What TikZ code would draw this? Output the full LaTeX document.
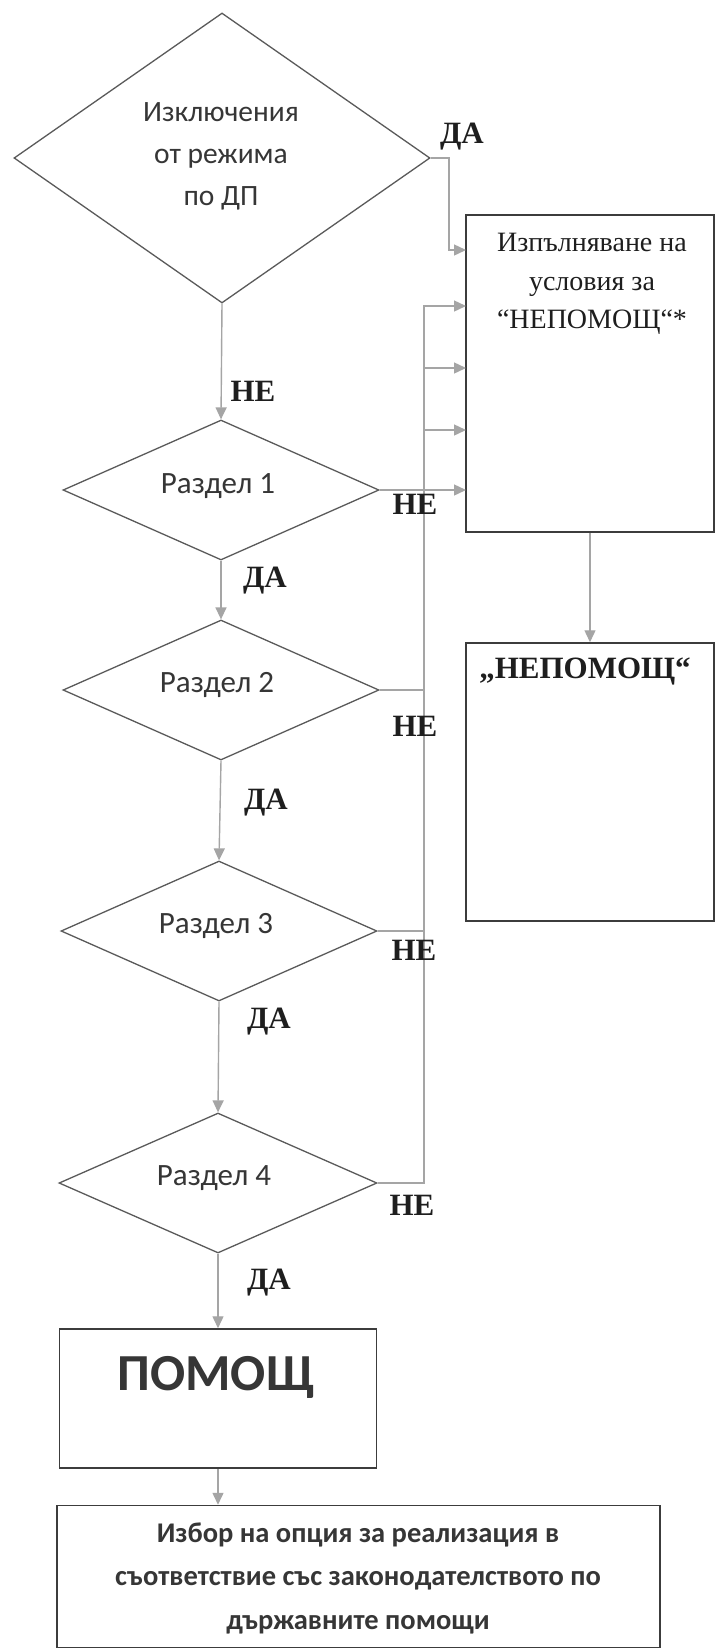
\documentclass[tikz,border=0pt]{standalone}
\usepackage{fontspec}
\setmainfont{Liberation Serif}
\newfontfamily\calfont{Carlito}
\usetikzlibrary{shapes.geometric,arrows.meta}
\definecolor{cgray}{HTML}{A5A5A5}
\definecolor{dgray}{HTML}{5A5A5A}
\definecolor{bgray}{HTML}{3C3C3C}
\definecolor{tgray}{HTML}{363636}
\definecolor{ink}{HTML}{1E1E1E}
\begin{document}
\begin{tikzpicture}[x=1pt,y=-1pt,
  conn/.style={draw=cgray, line width=1.4pt},
  arr/.style={conn, -{Triangle[length=12pt,width=11pt]}},
  dia/.style={diamond, draw=dgray, line width=1.3pt, inner sep=0pt},
  razd/.style={text=tgray, font=\calfont\fontsize{31}{36}\selectfont},
  box/.style={rectangle, draw=bgray, line width=1.5pt, inner sep=0pt},
  lbl/.style={font=\bfseries\fontsize{31}{34}\selectfont, text=ink, inner sep=0pt},
]
\useasboundingbox[fill=white] (0,0) rectangle (716,1649);

% decision diamonds
\node[dia, minimum width=416pt, minimum height=290pt] (d0) at (222,158) {};
\node[align=center, text=tgray, font=\calfont\fontsize{29.5}{42}\selectfont] (t0) at (221,156) {Изключения\\от режима\\по ДП};
\node[dia, minimum width=316pt, minimum height=140pt] (d1) at (221,490) {};
\node[razd] (r1) at (218,486) {Раздел 1};
\node[dia, minimum width=316pt, minimum height=140pt] (d2) at (221,690) {};
\node[razd] (r2) at (217,685) {Раздел 2};
\node[dia, minimum width=316pt, minimum height=140pt] (d3) at (219,931) {};
\node[razd] (r3) at (216,926) {Раздел 3};
\node[dia, minimum width=318pt, minimum height=140pt] (d4) at (218,1183) {};
\node[razd] (r4) at (214,1178) {Раздел 4};

% boxes
\node[box, minimum width=248pt, minimum height=317pt] (b1) at (590,373.5) {};
\node[align=center, text=ink, font=\fontsize{28}{38.5}\selectfont] (t1) at (592,284) {Изпълняване на\\условия за\\“НЕПОМОЩ“*};
\node[box, minimum width=248pt, minimum height=278pt] (b2) at (590,782) {};
\node[text=ink, font=\bfseries\fontsize{31}{34}\selectfont] (t2) at (585,671) {„НЕПОМОЩ“};
\node[box, minimum width=317pt, minimum height=139pt] (p) at (218,1398.5) {};
\node[text=tgray, font=\calfont\bfseries\fontsize{52}{56}\selectfont] (tp) at (216,1377) {ПОМОЩ};
\node[box, minimum width=603pt, minimum height=142pt] (e) at (358.5,1576.5) {};
\node[align=center, text=tgray, font=\calfont\bfseries\fontsize{28.5}{43.5}\selectfont] (te) at (358,1578) {Избор на опция за реализация в\\съответствие със законодателството по\\държавните помощи};

% coordinates for connectors
\coordinate (k0) at (449,158);
\coordinate (a0) at (466,250);
\coordinate (bt) at (424,306);
\coordinate (a1) at (466,306);
\coordinate (s2) at (424,368);
\coordinate (a2) at (466,368);
\coordinate (s3) at (424,430);
\coordinate (a3) at (466,430);
\coordinate (a4) at (466,490);
\coordinate (j2) at (424,690);
\coordinate (j3) at (424,931);
\coordinate (bb) at (424,1183);

% YES from top diamond
\draw[arr] (d0.east) -- (k0) |- (a0);
% NO bus
\draw[arr] (d4.east) -- (bb) -- (bt) -- (a1);
\draw[arr] (s2) -- (a2);
\draw[arr] (s3) -- (a3);
\draw[arr] (d1.east) -- (a4);
\draw[conn] (d2.east) -- (j2);
\draw[conn] (d3.east) -- (j3);

% main flow
\draw[arr] (d0.south) -- (d1.north);
\draw[arr] (d1.south) -- (d2.north);
\draw[arr] (d2.south) -- (d3.north);
\draw[arr] (d3.south) -- (d4.north);
\draw[arr] (d4.south) -- (p.north);
\draw[arr] (p.south) -- (p.south |- e.north);
\draw[arr] (b1.south) -- (b2.north);

% labels
\node[lbl] (l0) at (462,137) {ДА};
\node[lbl] (l1) at (253,391) {НЕ};
\node[lbl] (l2) at (265,581) {ДА};
\node[lbl] (l3) at (266,803) {ДА};
\node[lbl] (l4) at (269,1022) {ДА};
\node[lbl] (l5) at (269,1283) {ДА};
\node[lbl] (n1) at (415,504) {НЕ};
\node[lbl] (n2) at (415,726) {НЕ};
\node[lbl] (n3) at (414,950) {НЕ};
\node[lbl] (n4) at (412,1205) {НЕ};
\end{tikzpicture}
\end{document}
